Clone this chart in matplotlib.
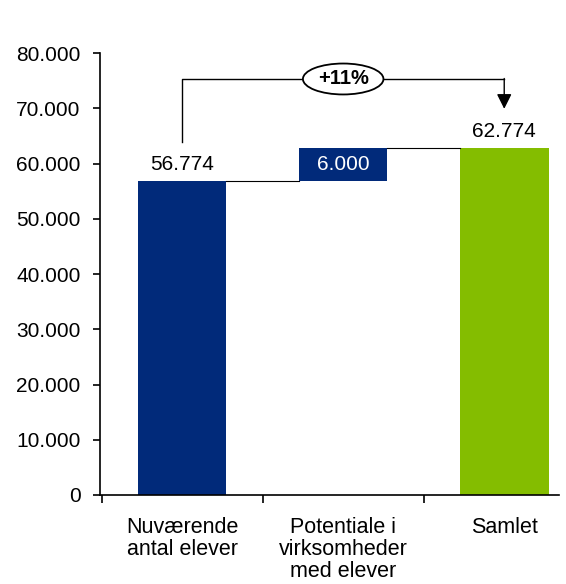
import matplotlib.pyplot as plt
from matplotlib.patches import Ellipse
from matplotlib.ticker import FuncFormatter

plt.rcParams['font.family'] = ['Liberation Sans', 'DejaVu Sans']

# data
categories = ["Nuværende\nantal elever", "Potentiale i\nvirksomheder\nmed elever", "Samlet"]
current = 56774
potential = 6000
total = current + potential
growth = round((total / current - 1) * 100)

navy = "#012A7A"
green = "#84BD00"

fig = plt.figure(figsize=(5.66, 5.84), dpi=100)
ax = fig.add_axes([0.1767, 0.1524, 0.8109, 0.7568])

w = 0.55
ax.bar(0, current, width=w, color=navy, zorder=2)
ax.bar(1, potential, bottom=current, width=w, color=navy, zorder=2)
ax.bar(2, total, width=w, color=green, zorder=2)

# connector lines
ax.plot([w / 2, 1 - w / 2], [current, current], color="black", lw=0.8)
ax.plot([1 + w / 2, 2 - w / 2], [total, total], color="black", lw=0.8)


def dk(v):
    return f"{v:,.0f}".replace(",", ".")


ax.text(0, current + 1300, dk(current), ha="center", va="bottom", fontsize=15)
ax.text(1, current + potential / 2, dk(potential), ha="center", va="center", fontsize=15, color="white")
ax.text(2, total + 1300, dk(total), ha="center", va="bottom", fontsize=15)

# growth bracket
top = 75300
ax.plot([0, 0, 2], [63900, top, top], color="black", lw=1)
ax.annotate("", xy=(2, 69900), xytext=(2, top + 90),
            arrowprops=dict(arrowstyle="-|>,head_length=0.9,head_width=0.45", color="black", lw=1,
                            shrinkA=0, shrinkB=0))
ax.add_patch(Ellipse((1, top), 0.5, 5600, facecolor="white", edgecolor="black", lw=1.3, zorder=3))
ax.text(1, top, f"+{growth}%", ha="center", va="center", fontsize=14.5, fontweight="bold", zorder=4)

ax.set_xlim(-0.51, 2.34)
ax.set_ylim(0, 80000)
ax.set_yticks(range(0, 80001, 10000))
ax.yaxis.set_major_formatter(FuncFormatter(lambda v, p: dk(v)))
ax.set_xticks([0, 1, 2])
ax.set_xticklabels(categories, fontsize=15.5, linespacing=1.05)
ax.set_xticks([-0.5, 0.5, 1.5], minor=True)
ax.tick_params(axis="x", which="major", length=0, pad=16)
ax.tick_params(axis="x", which="minor", length=6, width=1.2, direction="out")
ax.tick_params(axis="y", labelsize=15, length=5, width=1.2, pad=9)
for s in ["top", "right"]:
    ax.spines[s].set_visible(False)
for s in ["left", "bottom"]:
    ax.spines[s].set_linewidth(1.2)

fig.savefig("out.png", dpi=100)
